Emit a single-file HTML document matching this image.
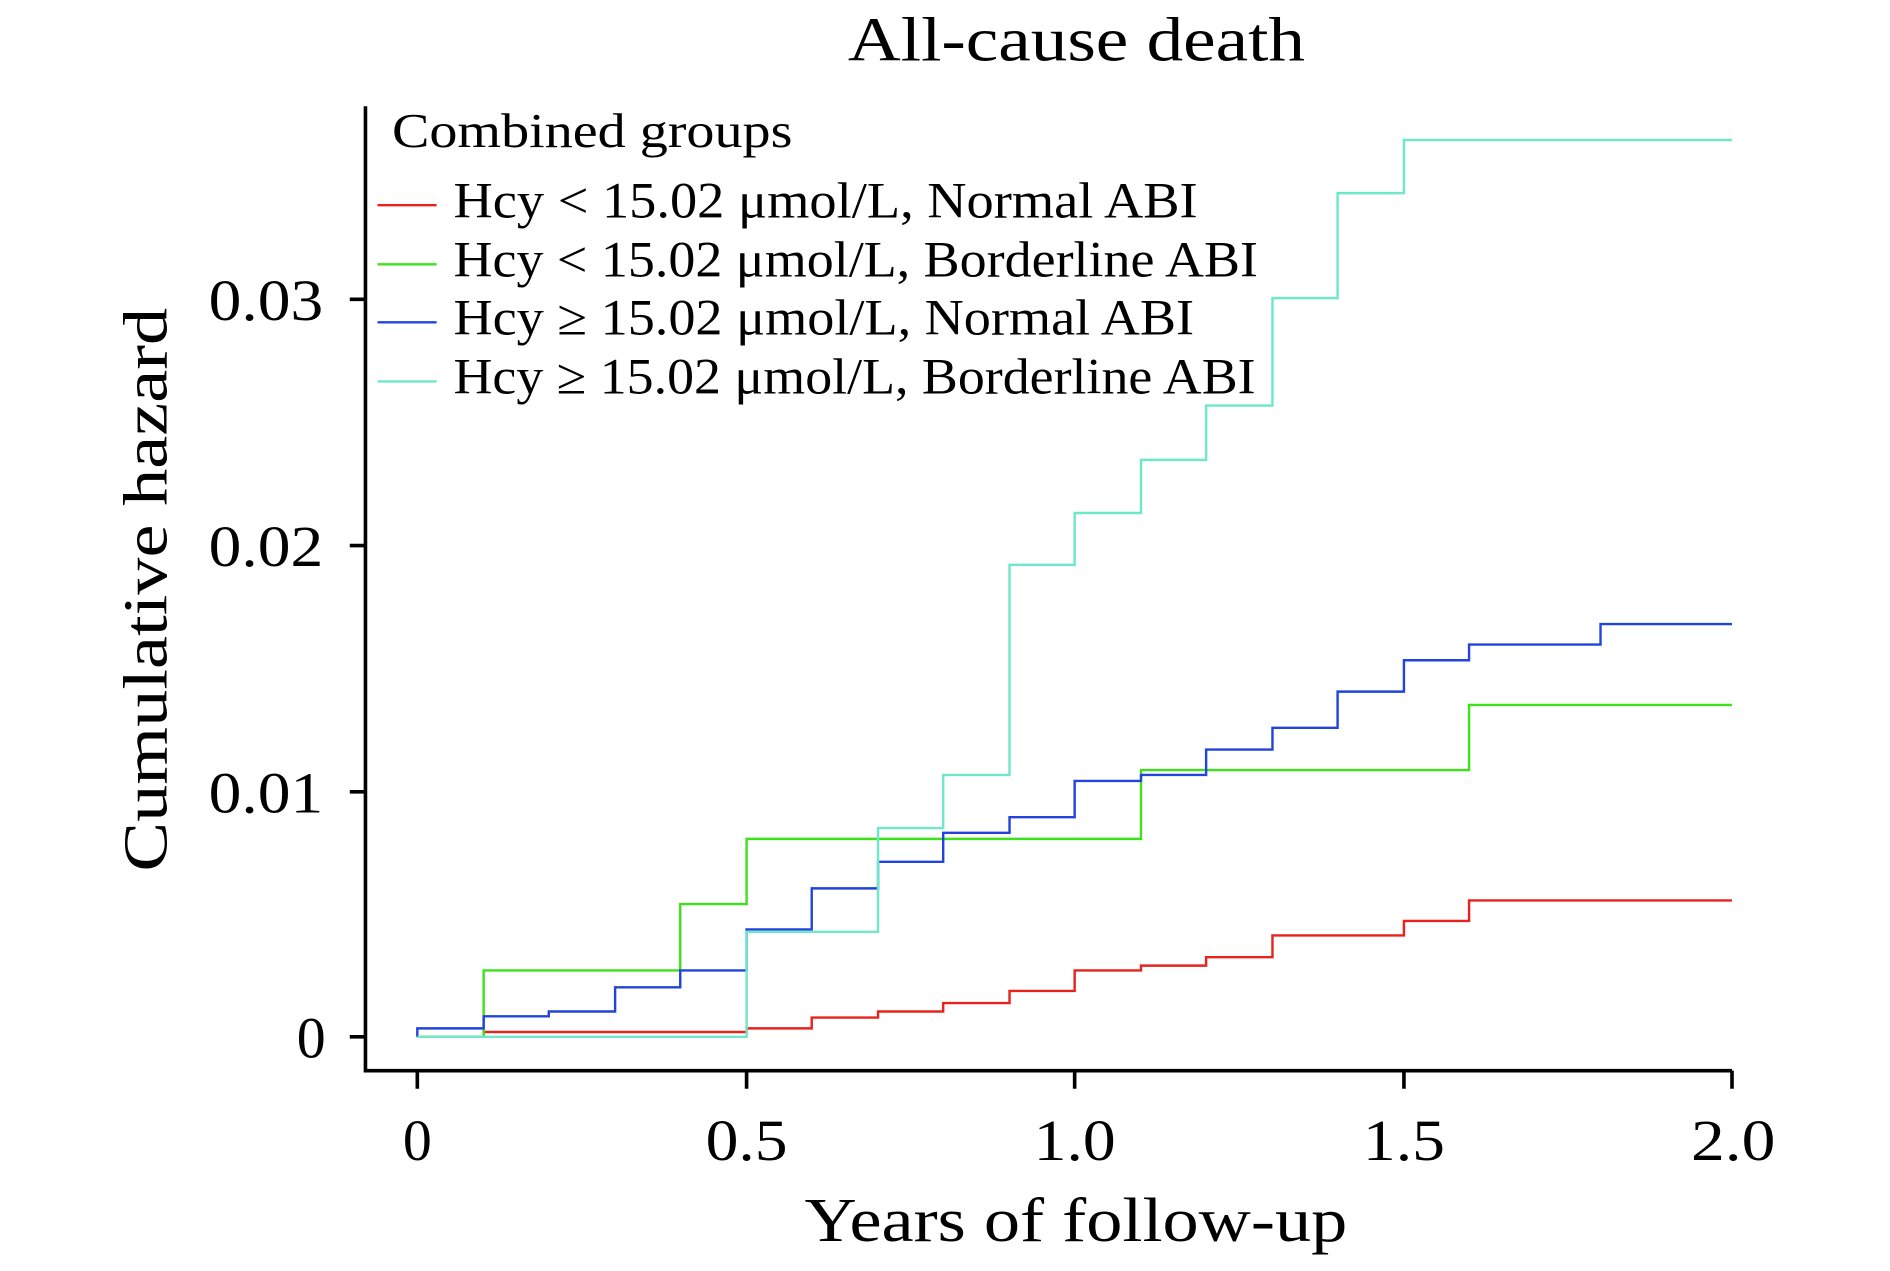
<!DOCTYPE html>
<html><head><meta charset="utf-8"><style>html,body{margin:0;padding:0;background:#fff}svg{display:block}</style></head>
<body>
<svg width="1890" height="1271" viewBox="0 0 1567 1053" preserveAspectRatio="none" xmlns="http://www.w3.org/2000/svg" font-family="Liberation Serif, serif">
<text x="703" y="50" font-size="52" textLength="379" lengthAdjust="spacingAndGlyphs">All-cause death</text>
<g stroke="#000" stroke-width="3" fill="none">
<path d="M303 88V887H1436"/>
<path d="M290 248H303M290 452H303M290 656H303M290 859H303"/>
<path d="M346 887V902M619 887V902M891 887V902M1164 887V902M1436 887V902"/>
</g>
<g font-size="48">
<text x="173" y="265" textLength="95" lengthAdjust="spacingAndGlyphs">0.03</text>
<text x="173" y="469" textLength="95" lengthAdjust="spacingAndGlyphs">0.02</text>
<text x="173" y="673" textLength="95" lengthAdjust="spacingAndGlyphs">0.01</text>
<text x="270" y="876" text-anchor="end">0</text>
</g>
<g font-size="48">
<text x="346" y="961" text-anchor="middle">0</text>
<text x="585" y="961" textLength="68" lengthAdjust="spacingAndGlyphs">0.5</text>
<text x="857" y="961" textLength="68" lengthAdjust="spacingAndGlyphs">1.0</text>
<text x="1130" y="961" textLength="68" lengthAdjust="spacingAndGlyphs">1.5</text>
<text x="1402" y="961" textLength="70" lengthAdjust="spacingAndGlyphs">2.0</text>
</g>
<text x="667" y="1028" font-size="52" textLength="450" lengthAdjust="spacingAndGlyphs">Years of follow-up</text>
<text transform="translate(138,722) rotate(-90)" font-size="52" textLength="467" lengthAdjust="spacingAndGlyphs">Cumulative hazard</text>
<g fill="none" stroke-width="2">
<path stroke="#e8221c" d="M346 859H401V855H619V852H673V843H728V838H782V831H837V821H891V804H946V800H1000V793H1055V775H1164V763H1218V746H1436"/>
<path stroke="#3de21a" d="M346 859H401V804H564V749H619V695H946V638H1218V584H1436"/>
<path stroke="#2244dd" d="M346 859V852H401V842H455V838H510V818H564V804H619V770H673V736H728V714H782V690H837V677H891V647H946V642H1000V621H1055V603H1109V573H1164V547H1218V534H1327V517H1436"/>
<path stroke="#6ee8c8" d="M346 859H619V772H728V686H782V642H837V468H891V425H946V381H1000V336H1055V247H1109V160H1164V116H1436"/>
</g>
<text x="325" y="122" font-size="40" textLength="332" lengthAdjust="spacingAndGlyphs">Combined groups</text>
<g stroke-width="2">
<line x1="313" x2="362" y1="170" y2="170" stroke="#e8221c"/>
<line x1="313" x2="362" y1="219" y2="219" stroke="#3de21a"/>
<line x1="313" x2="362" y1="267" y2="267" stroke="#2244dd"/>
<line x1="313" x2="362" y1="316" y2="316" stroke="#6ee8c8"/>
</g>
<g font-size="42">
<text x="376" y="180" textLength="617" lengthAdjust="spacingAndGlyphs">Hcy &lt; 15.02 μmol/L, Normal ABI</text>
<text x="376" y="229" textLength="667" lengthAdjust="spacingAndGlyphs">Hcy &lt; 15.02 μmol/L, Borderline ABI</text>
<text x="376" y="277" textLength="614" lengthAdjust="spacingAndGlyphs">Hcy ≥ 15.02 μmol/L, Normal ABI</text>
<text x="376" y="326" textLength="665" lengthAdjust="spacingAndGlyphs">Hcy ≥ 15.02 μmol/L, Borderline ABI</text>
</g>
</svg>
</body></html>
